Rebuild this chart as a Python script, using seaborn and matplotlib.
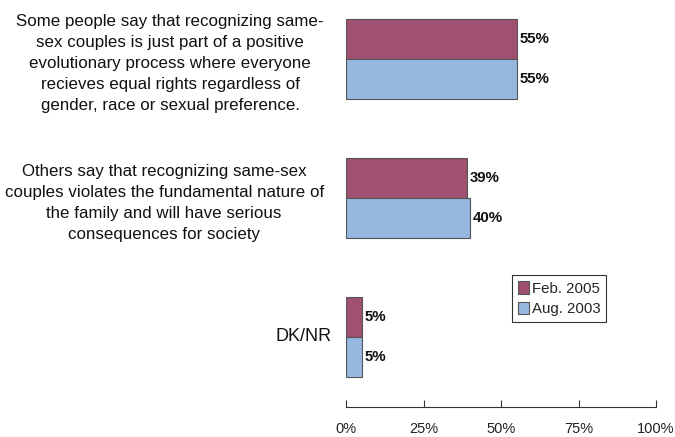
import matplotlib
matplotlib.use('Agg')
import matplotlib.pyplot as plt
import pandas as pd
import seaborn as sns

categories = [
    'Some people say that recognizing same-\nsex couples is just part of a positive\nevolutionary process where everyone\nrecieves equal rights regardless of\ngender, race or sexual preference.',
    'Others say that recognizing same-sex\ncouples violates the fundamental nature of\nthe family and will have serious\nconsequences for society',
    'DK/NR',
]
periods = ['Feb. 2005', 'Aug. 2003']
feb_2005 = [55, 39, 5]
aug_2003 = [55, 40, 5]
ticks = [0, 25, 50, 75, 100]
tick_labels = ['0%', '25%', '50%', '75%', '100%']
colors = ['#A05070', '#96B7E0']

df = pd.DataFrame({
    'category': categories * 2,
    'period': [periods[0]] * 3 + [periods[1]] * 3,
    'value': feb_2005 + aug_2003,
})

sns.set_style('white')
plt.rcParams['font.family'] = ['Liberation Sans', 'DejaVu Sans']

fig = plt.figure(figsize=(6.75, 4.37), dpi=100)
ax = fig.add_axes([346 / 675, 30 / 437, 310 / 675, 407 / 437])

sns.barplot(data=df, x='value', y='category', hue='period', hue_order=periods,
            palette=colors, saturation=1, width=0.576, edgecolor='#555555',
            linewidth=0.8, orient='h', ax=ax)

for cont in ax.containers:
    ax.bar_label(cont, fmt='%d%%', padding=2, fontsize=10.8, fontweight='bold',
                 color='#111111')

ax.set_xlim(0, 100)
ax.set_ylim(2.504, -0.425)
ax.set_xticks(ticks)
ax.set_xticklabels(tick_labels, fontsize=10.5, color='#222222')
ax.tick_params(axis='x', bottom=True, direction='in', length=5, width=0.8,
               color='#333333', pad=11)
ax.tick_params(axis='y', length=0, pad=16)

# short label sits closer to the bars, drawn as its own text
ax.set_yticks(range(len(categories)))
ax.set_yticklabels(categories[:-1] + [''])
ax.text(-14 / 310, len(categories) - 1, categories[-1], fontsize=13,
        color='#111111', ha='right', va='center',
        transform=ax.get_yaxis_transform())
for lab in ax.get_yticklabels():
    lab.set_multialignment('center')
    lab.set_fontsize(12.2)
    lab.set_linespacing(1.5)
    lab.set_color('#111111')
ax.set_xlabel('')
ax.set_ylabel('')
for s in ['left', 'top', 'right']:
    ax.spines[s].set_visible(False)
ax.spines['bottom'].set_color('#333333')
ax.spines['bottom'].set_linewidth(0.8)

leg = ax.legend(loc='upper left', bbox_to_anchor=(0.512, 0.342), fontsize=10.8,
                frameon=True, fancybox=False, handlelength=0.7, handleheight=0.9,
                handletextpad=0.2, borderpad=0.4, labelspacing=0.4)
leg.get_frame().set_edgecolor('#000000')
leg.get_frame().set_linewidth(0.8)

fig.savefig('out.png', dpi=100)
